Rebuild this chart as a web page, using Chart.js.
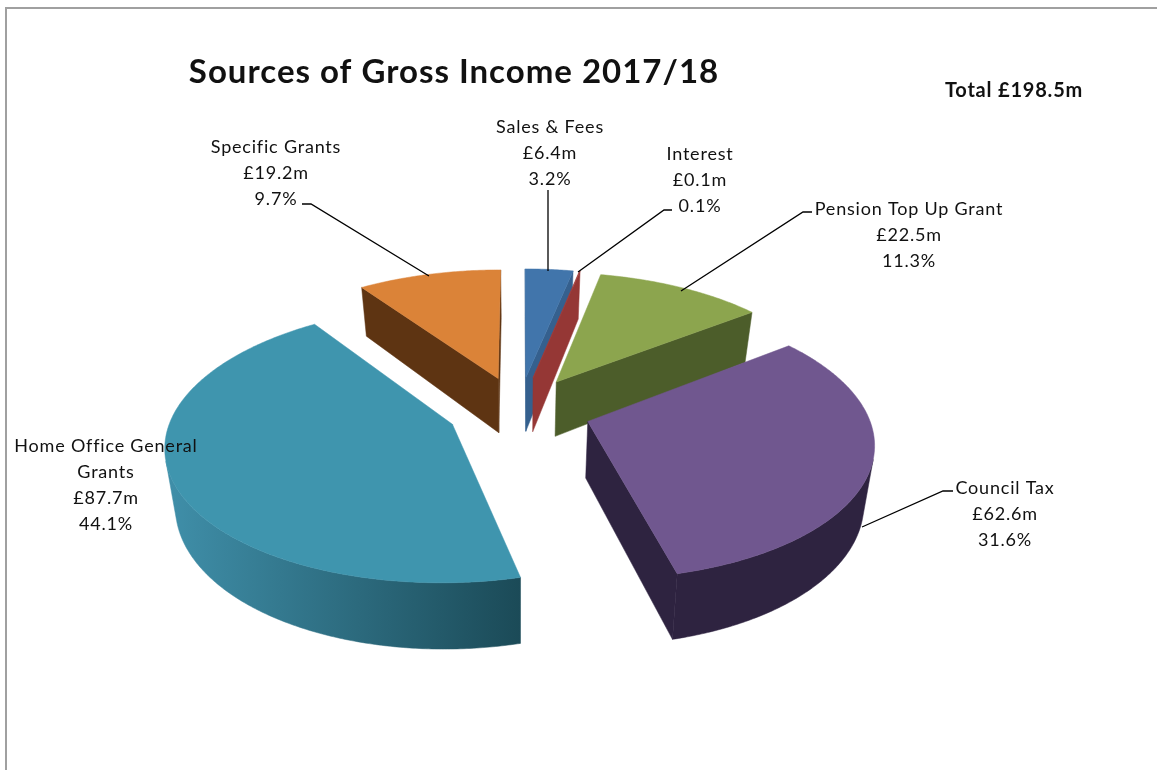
<!DOCTYPE html>
<html>
<head>
<meta charset="utf-8">
<title>Sources of Gross Income 2017/18</title>
<script src="https://cdn.jsdelivr.net/npm/chart.js@4/dist/chart.umd.min.js"></script>
<style>
  html, body { margin: 0; padding: 0; background: #fff; }
  canvas { display: block; }
</style>
</head>
<body>
<canvas id="incomeChart" width="1157" height="770"></canvas>
<script>
// Data
const categories = ['Sales & Fees', 'Interest', 'Pension Top Up Grant', 'Council Tax', 'Home Office General Grants', 'Specific Grants'];
const amounts = [6.4, 0.1, 22.5, 62.6, 87.7, 19.2];
const shares = [3.2, 0.1, 11.3, 31.6, 44.1, 9.7];
const chartTitle = 'Sources of Gross Income 2017/18';
const totalLabel = 'Total £198.5m';

const topColors = ['#4175ab', '#a23c3a', '#8ca54e', '#70578f', '#3f95ae', '#db8338'];
const sideColors = ['#35608e', '#953735', '#4c5d2a', '#2e2340', '#2f7288', '#5e3412'];

// Fake 3D view: perspective projection of the pie plane
const VIEW = { cx: 519, cy: 410, rx: 279, ry: 132, persp: 0.14, depth: 56, shrink: 0.97 };

// Label placement: centre x, y of first line, wrapped lines of the name
const labelSpots = [
  { x: 550, y: 127, name: ['Sales & Fees'] },
  { x: 700, y: 154, name: ['Interest'] },
  { x: 909, y: 209, name: ['Pension Top Up Grant'] },
  { x: 1005, y: 488, name: ['Council Tax'] },
  { x: 106, y: 446, name: ['Home Office General', 'Grants'] },
  { x: 276, y: 147, name: ['Specific Grants'] }
];
const leaders = [
  [[548, 190], [548, 271]],
  [[672, 210], [664, 210], [578, 272]],
  [[812, 212], [803, 212], [681, 291]],
  [[953, 491], [943, 491], [862, 527]],
  [],
  [[302, 204], [311, 204], [429, 276]]
];

function project(el, angle, r) {
  const mid = (el.startAngle + el.endAngle) / 2;
  const off = el.options.offset / el.outerRadius;
  const u = r * Math.cos(angle) + off * Math.cos(mid);
  const v = r * Math.sin(angle) + off * Math.sin(mid);
  const f = 1 / (1 - VIEW.persp * v);
  return { x: VIEW.cx + VIEW.rx * u * f, y: VIEW.cy + VIEW.ry * v * f, f: f };
}

function lower(p) {
  return { x: VIEW.cx + (p.x - VIEW.cx) * VIEW.shrink, y: p.y + VIEW.depth * p.f };
}

function area(pts) {
  let sum = 0;
  pts.forEach((p, i) => {
    const q = pts[(i + 1) % pts.length];
    sum += p.x * q.y - q.x * p.y;
  });
  return sum;
}

function fillPoly(ctx, pts, fill) {
  ctx.beginPath();
  pts.forEach((p, i) => (i ? ctx.lineTo(p.x, p.y) : ctx.moveTo(p.x, p.y)));
  ctx.closePath();
  ctx.fillStyle = fill;
  ctx.fill();
  ctx.strokeStyle = fill;
  ctx.lineWidth = 0.5;
  ctx.stroke();
}

function drawSlice(ctx, el, index) {
  const steps = Math.max(2, Math.ceil((el.endAngle - el.startAngle) / 0.01));
  const rim = [];
  for (let i = 0; i <= steps; i++) {
    rim.push(project(el, el.startAngle + (el.endAngle - el.startAngle) * i / steps, 1));
  }
  const apex = project(el, el.startAngle, 0);

  // cut faces, only those turned to the viewer
  const startWall = [apex, rim[0], lower(rim[0]), lower(apex)];
  const endWall = [apex, rim[steps], lower(rim[steps]), lower(apex)];
  if (area(startWall) < 0) fillPoly(ctx, startWall, sideColors[index]);
  if (area(endWall) > 0) fillPoly(ctx, endWall, sideColors[index]);

  // outer wall
  const front = rim.filter((p, i) => {
    const q = rim[Math.min(i + 1, steps)];
    const o = rim[Math.max(i - 1, 0)];
    return area([o, q, lower(q), lower(o)]) < 0;
  });
  if (front.length > 1) {
    let fill = sideColors[index];
    if (index === 4) {
      fill = ctx.createLinearGradient(172, 0, 522, 0);
      fill.addColorStop(0, '#3f8ea8');
      fill.addColorStop(1, '#1b4a57');
    }
    fillPoly(ctx, front.concat(front.map(lower).reverse()), fill);
  }

  fillPoly(ctx, [apex].concat(rim), topColors[index]);
}

function drawText(ctx) {
  ctx.fillStyle = '#111';
  ctx.textAlign = 'center';
  ctx.textBaseline = 'middle';
  ctx.font = 'bold 33px Lato';
  ctx.letterSpacing = '1px';
  ctx.fillText(chartTitle, 454, 72);
  ctx.font = 'bold 20px Lato';
  ctx.letterSpacing = '0.8px';
  ctx.fillText(totalLabel, 1014, 91);

  ctx.font = '18px Lato';
  categories.forEach((cat, i) => {
    const spot = labelSpots[i];
    const lines = spot.name.concat(['£' + amounts[i].toFixed(1) + 'm', shares[i].toFixed(1) + '%']);
    lines.forEach((line, n) => ctx.fillText(line, spot.x, spot.y + n * 26));
  });

  ctx.strokeStyle = '#000';
  ctx.lineWidth = 1.3;
  leaders.forEach(path => {
    if (!path.length) return;
    ctx.beginPath();
    path.forEach((p, i) => (i ? ctx.lineTo(p[0], p[1]) : ctx.moveTo(p[0], p[1])));
    ctx.stroke();
  });
}

const pie3d = {
  id: 'pie3d',
  beforeDatasetsDraw(chart) {
    const ctx = chart.ctx;
    const arcs = chart.getDatasetMeta(0).data;
    // paint from the far side of the pie to the near side
    const order = arcs.map((el, i) => i).sort((a, b) =>
      Math.sin((arcs[a].startAngle + arcs[a].endAngle) / 2) - Math.sin((arcs[b].startAngle + arcs[b].endAngle) / 2));
    ctx.save();
    order.forEach(i => drawSlice(ctx, arcs[i], i));
    ctx.restore();
    return false;
  },
  afterDraw(chart) {
    const ctx = chart.ctx;
    ctx.save();
    // frame, cut off at the right and bottom of the picture
    ctx.strokeStyle = '#a0a0a0';
    ctx.lineWidth = 2;
    ctx.beginPath();
    ctx.moveTo(6, 770);
    ctx.lineTo(6, 8);
    ctx.lineTo(1157, 8);
    ctx.stroke();
    drawText(ctx);
    ctx.restore();
  }
};

new Chart(document.getElementById('incomeChart').getContext('2d'), {
  type: 'pie',
  data: {
    labels: categories,
    datasets: [{
      data: amounts,
      backgroundColor: topColors,
      borderWidth: 0,
      offset: 88
    }]
  },
  options: {
    responsive: false,
    animation: false,
    plugins: {
      legend: { display: false },
      tooltip: { enabled: false }
    }
  },
  plugins: [pie3d]
});
</script>
</body>
</html>
